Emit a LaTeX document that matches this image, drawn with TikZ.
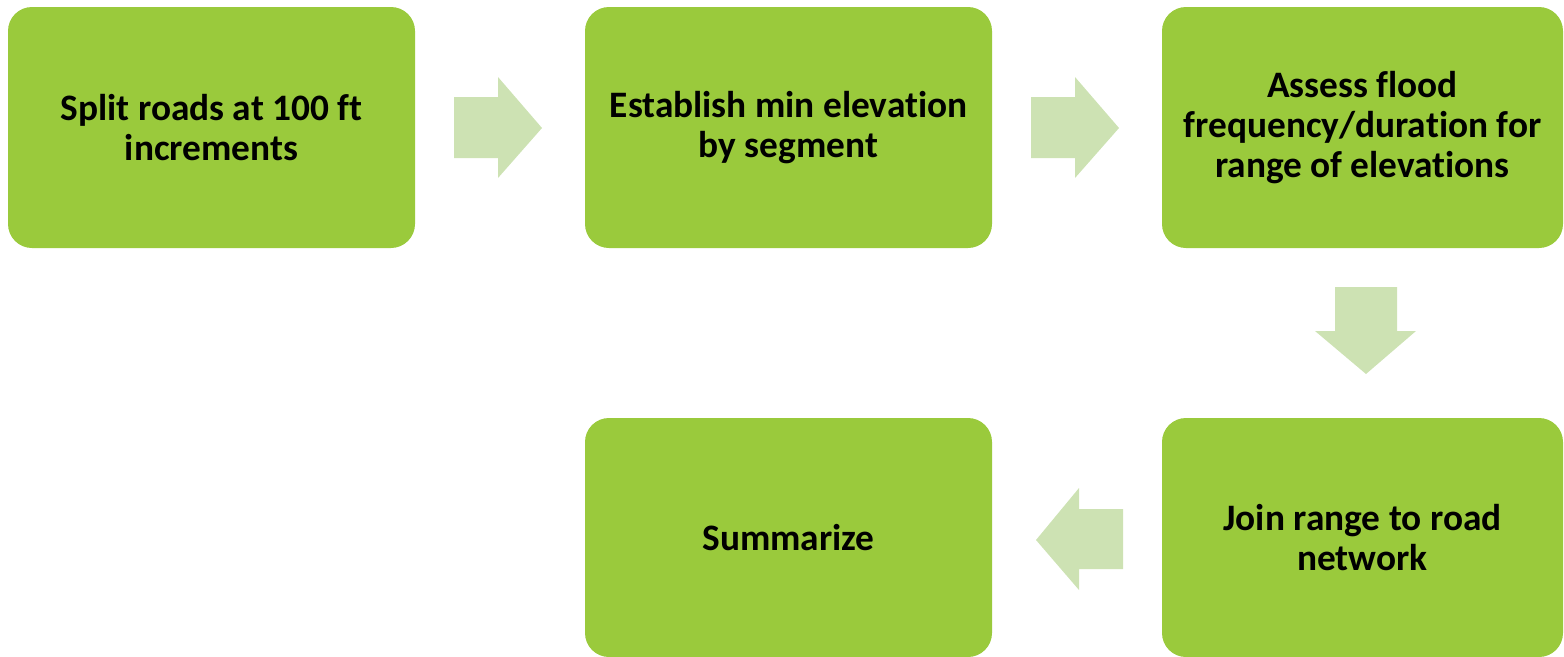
\documentclass[tikz,border=0pt]{standalone}
\usepackage{fontspec}
\setmainfont{Carlito}[Ligatures={NoCommon}]
\definecolor{boxgreen}{HTML}{9ACA3C}
\definecolor{arrowgreen}{HTML}{CDE2B3}
\begin{document}
\begin{tikzpicture}[x=0.75pt,y=-0.75pt,
  stepbox/.style={draw=none,fill=boxgreen,rounded corners=18pt,align=center,
    font=\fontsize{28}{30}\selectfont\bfseries,text=black,inner sep=0pt},
  blockarrow/.style={fill=arrowgreen,draw=none}]
\useasboundingbox (0,0) rectangle (1564,657);
\node[stepbox,minimum width={407*0.75pt},minimum height={241*0.75pt}] (b1) at (211.5,127.5) {Split roads at 100 ft\\increments};
\node[stepbox,minimum width={407*0.75pt},minimum height={241*0.75pt}] (b2) at (788.5,127.5) {Establish min elevation\\by segment};
\node[stepbox,minimum width={401*0.75pt},minimum height={241*0.75pt}] (b3) at (1362.5,127.5) {Assess flood\\frequency/duration for\\range of elevations};
\node[stepbox,minimum width={401*0.75pt},minimum height={239*0.75pt}] (b4) at (1362.5,537.5) {Join range to road\\network};
\node[stepbox,minimum width={407*0.75pt},minimum height={239*0.75pt}] (b5) at (788.5,537.5) {Summarize};
% right arrow 1
\fill[blockarrow] (454,97) -- (498,97) -- (498,77) -- (542,128) -- (498,178) -- (498,158) -- (454,158) -- cycle;
% right arrow 2
\fill[blockarrow] (1031,97) -- (1075,97) -- (1075,77) -- (1119,128) -- (1075,178) -- (1075,158) -- (1031,158) -- cycle;
% down arrow
\fill[blockarrow] (1335,287) -- (1397,287) -- (1397,331) -- (1416,331) -- (1366,374) -- (1315,331) -- (1335,331) -- cycle;
% left arrow
\fill[blockarrow] (1123,509) -- (1079,509) -- (1079,488) -- (1036,540) -- (1079,590) -- (1079,569) -- (1123,569) -- cycle;
\end{tikzpicture}
\end{document}
